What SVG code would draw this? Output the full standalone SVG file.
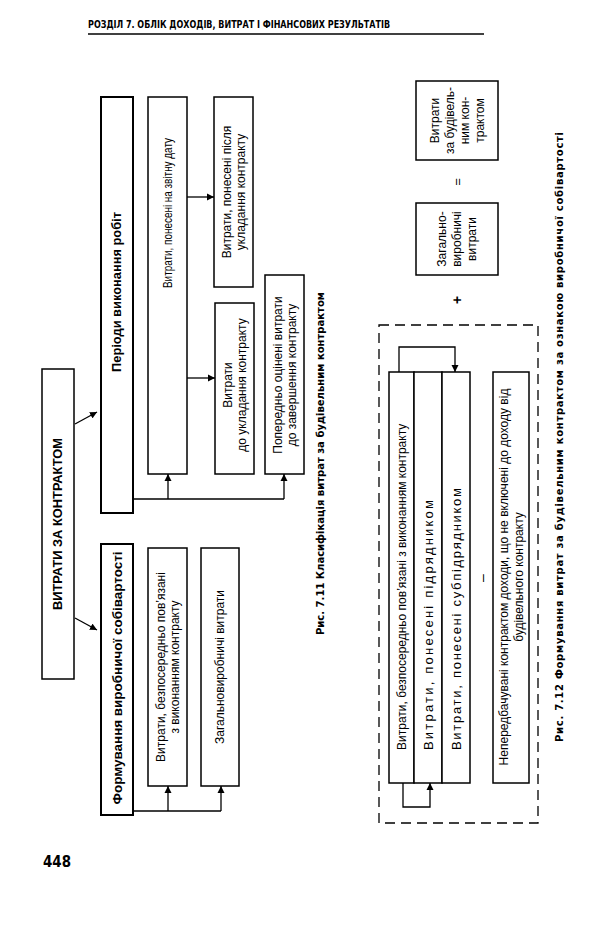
<svg xmlns="http://www.w3.org/2000/svg" width="605" height="927" viewBox="0 0 605 927">
<style>
.box{fill:#fff;stroke:#000;stroke-width:1.5}
.bbox{fill:#fff;stroke:#000;stroke-width:2}
.t{font-family:"Liberation Sans",Arial,sans-serif;font-size:12px;fill:#000;text-anchor:middle;dominant-baseline:central}
.ts{font-family:"Liberation Sans",Arial,sans-serif;font-size:12px;fill:#000;text-anchor:start;dominant-baseline:central}
.tb{font-family:"Liberation Sans",Arial,sans-serif;font-weight:bold;font-size:12.5px;fill:#000;text-anchor:middle;dominant-baseline:central}
.cap{font-family:"DejaVu Sans",Verdana,sans-serif;font-weight:bold;font-size:10.5px;fill:#000;text-anchor:middle;dominant-baseline:central}
.hd{font-family:"DejaVu Sans",Verdana,sans-serif;font-weight:bold;font-size:10.5px;fill:#000}
.ln{fill:none;stroke:#000;stroke-width:1.3}
.dash{fill:none;stroke:#000;stroke-width:1.3;stroke-dasharray:10,6}
</style>
<defs>
<marker id="ah" viewBox="0 0 10 10" refX="10" refY="5" markerWidth="7" markerHeight="8" markerUnits="userSpaceOnUse" orient="auto">
<path d="M0,0 L10,5 L0,10 z" fill="#000"/>
</marker>
</defs>
<rect width="605" height="927" fill="#fff"/>

<g id="header">
<text class="hd" x="88" y="28" textLength="302" lengthAdjust="spacingAndGlyphs">РОЗДІЛ 7. ОБЛІК ДОХОДІВ, ВИТРАТ І ФІНАНСОВИХ РЕЗУЛЬТАТІВ</text>
<line x1="88" y1="34" x2="484" y2="34" stroke="#000" stroke-width="1.5"/>
</g>
<g id="page-number">
<text class="hd" x="43" y="867" style="font-size:15px" textLength="28" lengthAdjust="spacingAndGlyphs">448</text>
</g>

<!-- Fig 7.11 -->
<g id="n-contract">
<rect class="box" x="42" y="369" width="32" height="310"/>
<text class="tb" transform="translate(58,524) rotate(-90)" style="font-size:12px" textLength="172" lengthAdjust="spacingAndGlyphs">ВИТРАТИ ЗА КОНТРАКТОМ</text>
</g>
<g id="n-periods">
<rect class="bbox" x="101" y="97" width="32" height="416"/>
<text class="tb" transform="translate(117,292) rotate(-90)" textLength="160" lengthAdjust="spacingAndGlyphs">Періоди виконання робіт</text>
</g>
<g id="n-reportdate">
<rect class="box" x="148" y="97" width="39" height="377"/>
<text class="t" transform="translate(167.5,213) rotate(-90)" textLength="150" lengthAdjust="spacingAndGlyphs">Витрати, понесені на звітну дату</text>
</g>
<g id="n-after">
<rect class="box" x="214" y="97" width="39" height="190"/>
<text class="t" transform="translate(233.5,192) rotate(-90)"><tspan x="0" y="-7">Витрати, понесені після</tspan><tspan x="0" y="7">укладання контракту</tspan></text>
</g>
<g id="n-before">
<rect class="box" x="215" y="303" width="39" height="171"/>
<text class="t" transform="translate(234.5,385) rotate(-90)"><tspan x="0" y="-7">Витрати</tspan><tspan x="0" y="7">до укладання контракту</tspan></text>
</g>
<g id="n-estimated">
<rect class="box" x="265" y="275" width="39" height="199"/>
<text class="t" transform="translate(284.5,375) rotate(-90)"><tspan x="0" y="-7">Попередньо оцінені витрати</tspan><tspan x="0" y="7">до завершення контракту</tspan></text>
</g>
<g id="n-formation">
<rect class="bbox" x="101" y="544" width="32" height="271"/>
<text class="tb" transform="translate(117,678) rotate(-90)" style="font-size:13px" textLength="253" lengthAdjust="spacingAndGlyphs">Формування виробничої собівартості</text>
</g>
<g id="n-direct">
<rect class="box" x="148" y="548" width="39" height="238"/>
<text class="t" transform="translate(167.5,667) rotate(-90)"><tspan x="0" y="-7">Витрати, безпосередньо пов’язані</tspan><tspan x="0" y="7">з виконанням контракту</tspan></text>
</g>
<g id="n-overhead">
<rect class="box" x="201" y="548" width="38" height="238"/>
<text class="t" transform="translate(220,667) rotate(-90)">Загальновиробничі витрати</text>
</g>
<g id="caption-711">
<text class="cap" transform="translate(320,463.5) rotate(-90)" style="font-size:11px" textLength="343" lengthAdjust="spacingAndGlyphs">Рис. 7.11 Класифікація витрат за будівельним контрактом</text>
</g>

<!-- Fig 7.12 -->
<g id="n-total">
<rect class="box" x="416" y="81" width="82" height="79"/>
<text class="t" transform="translate(457,120.5) rotate(-90)"><tspan x="0" y="-22.5">Витрати</tspan><tspan x="0" y="-7.5">за будівель-</tspan><tspan x="0" y="7.5">ним кон-</tspan><tspan x="0" y="22.5">трактом</tspan></text>
</g>
<g id="sign-eq">
<text class="t" transform="translate(457,182) rotate(-90)" style="font-size:13px">=</text>
</g>
<g id="n-overhead2">
<rect class="box" x="416" y="203" width="82" height="72"/>
<text class="t" transform="translate(457,239) rotate(-90)"><tspan x="0" y="-15">Загально-</tspan><tspan x="0" y="0">виробничі</tspan><tspan x="0" y="15">витрати</tspan></text>
</g>
<g id="sign-plus">
<text class="t" transform="translate(457,300) rotate(-90)" style="font-size:14px;font-weight:bold">+</text>
</g>
<g id="group-dashed">
<rect class="dash" x="379" y="325" width="159" height="498"/>
</g>
<g id="n-direct2">
<rect class="box" x="389" y="372" width="25" height="411"/>
<text class="ts" transform="translate(401.5,750) rotate(-90)">Витрати, безпосередньо пов’язані з виконанням контракту</text>
</g>
<g id="n-contractor">
<rect class="box" x="414" y="372" width="28" height="411"/>
<text class="ts" transform="translate(428,750) rotate(-90)" style="font-size:13px" textLength="250" lengthAdjust="spacing">Витрати, понесені підрядником</text>
</g>
<g id="n-subcontractor">
<rect class="box" x="442" y="372" width="28" height="411"/>
<text class="ts" transform="translate(456,750) rotate(-90)" style="font-size:13px" textLength="262" lengthAdjust="spacing">Витрати, понесені субпідрядником</text>
</g>
<g id="sign-minus">
<text class="t" transform="translate(482,578) rotate(-90)" style="font-size:14px">–</text>
</g>
<g id="n-unforeseen">
<rect class="box" x="493" y="372" width="36" height="411"/>
<text class="t" transform="translate(511,577) rotate(-90)"><tspan x="0" y="-7.5">Непередбачувані контрактом доходи, що не включені до доходу від</tspan><tspan x="0" y="7.5">будівельного контракту</tspan></text>
</g>
<g id="caption-712">
<text class="cap" transform="translate(559,437) rotate(-90)" style="font-size:10px" textLength="610" lengthAdjust="spacing">Рис. 7.12 Формування витрат за будівельним контрактом за ознакою виробничої собівартості</text>
</g>

<g id="connectors">
<line class="ln" x1="75" y1="424" x2="97" y2="412" marker-end="url(#ah)"/>
<line class="ln" x1="75" y1="618" x2="97" y2="630" marker-end="url(#ah)"/>
<line class="ln" x1="187" y1="197" x2="214" y2="197" marker-end="url(#ah)"/>
<line class="ln" x1="187" y1="378" x2="215" y2="378" marker-end="url(#ah)"/>
<polyline class="ln" points="133,499 284,499"/>
<line class="ln" x1="168" y1="499" x2="168" y2="474" marker-end="url(#ah)"/>
<line class="ln" x1="284" y1="499" x2="284" y2="474" marker-end="url(#ah)"/>
<polyline class="ln" points="133,811 221,811"/>
<line class="ln" x1="168" y1="811" x2="168" y2="786" marker-end="url(#ah)"/>
<line class="ln" x1="221" y1="811" x2="221" y2="786" marker-end="url(#ah)"/>
<polyline class="ln" points="399,372 399,347 455,347 455,372" marker-end="url(#ah)"/>
<polyline class="ln" points="403,783 403,807 430,807 430,783" marker-end="url(#ah)"/>
</g>
</svg>
